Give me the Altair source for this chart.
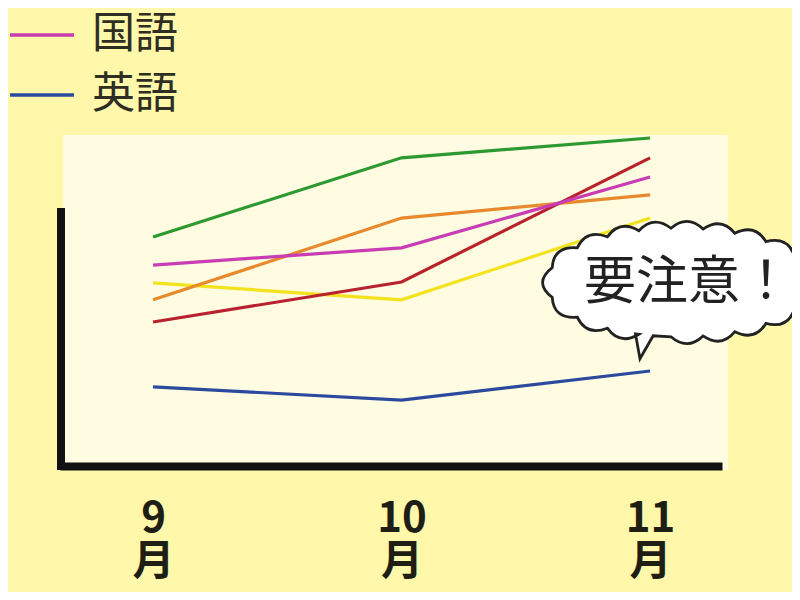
import altair as alt
import pandas as pd
import numpy as np

# ---- data ----
months = ["9月", "10月", "11月"]
kokugo = [60.7, 65.9, 87.3]   # 国語 (magenta)
eigo = [23.9, 19.9, 28.7]     # 英語 (blue)
sugaku = [43.5, 55.6, 93.1]   # 数学 (red)
rika = [69.2, 93.1, 99.1]     # 理科 (green)
shakai = [50.2, 74.9, 81.9]   # 社会 (orange)
sogo = [55.3, 50.2, 74.9]     # 総合 (yellow)

subjects = ["理科", "総合", "社会", "数学", "国語", "英語"]
series = {"国語": kokugo, "英語": eigo, "数学": sugaku, "理科": rika, "社会": shakai, "総合": sogo}
colors = ["#2c9a30", "#f3e31e", "#e8892e", "#b8222f", "#c83cb4", "#2b4a9e"]
legend_values = ["国語", "英語"]

rows = []
for s in subjects:
    for m, v in zip(months, series[s]):
        rows.append({"subject": s, "month": m, "score": v})
df = pd.DataFrame(rows)

note_text = "要注意！"

FONT = "Noto Sans CJK JP"


# ---- cloud bubble outline (unit coords, 1 unit = half of symbol width) ----
def cloud_path(a=0.97, b=0.40, nb=19, bump=0.052, tail_x=(-0.19, -0.32), tip=(-0.287, 0.56)):
    t = np.linspace(0, 2 * np.pi, 4000)
    xs, ys = a * np.cos(t), b * np.sin(t)
    cum = np.concatenate([[0], np.cumsum(np.hypot(np.diff(xs), np.diff(ys)))])
    ts = np.interp(np.linspace(0, cum[-1], nb + 1), cum, t)
    tail_center = (tail_x[0] + tail_x[1]) / 2
    d = [f"M{a * np.cos(ts[0]):.3f},{b * np.sin(ts[0]):.3f}"]
    for i in range(nb):
        t0, t1 = ts[i], ts[i + 1]
        x0, y0 = a * np.cos(t0), b * np.sin(t0)
        x1, y1 = a * np.cos(t1), b * np.sin(t1)
        if y0 > 0 and y1 > 0 and x0 >= tail_center >= x1:
            bx0, bx1 = tail_x
            by0 = b * np.sqrt(1 - (bx0 / a) ** 2)
            by1 = b * np.sqrt(1 - (bx1 / a) ** 2)
            d.append(f"L{bx0:.3f},{by0:.3f}L{tip[0]:.3f},{tip[1]:.3f}L{bx1:.3f},{by1:.3f}L{x1:.3f},{y1:.3f}")
            continue
        tm = (t0 + t1) / 2
        mx, my = a * np.cos(tm), b * np.sin(tm)
        nx, ny = np.cos(tm) / a, np.sin(tm) / b
        nl = np.hypot(nx, ny)
        cx, cy = mx + 2 * bump * nx / nl, my + 2 * bump * ny / nl
        d.append(f"Q{cx:.3f},{cy:.3f} {x1:.3f},{y1:.3f}")
    d.append("Z")
    return "".join(d)


bubble_shape = cloud_path()

one = alt.Data(values=[{"k": 1}])

bg = alt.Chart(one).mark_rect(color="#fffce1").encode(
    x=alt.value(3), x2=alt.value(668), y=alt.value(0), y2=alt.value(335)
)

left_axis = alt.Chart(one).mark_rule(color="#111", strokeWidth=8).encode(
    x=alt.value(1), y=alt.value(73), y2=alt.value(335)
)

lines = alt.Chart(df).mark_line(strokeWidth=3.2).encode(
    x=alt.X("month:N", sort=months,
            scale=alt.Scale(type="point", padding=0.332, align=0.564),
            axis=alt.Axis(title=None, labelAngle=0, ticks=False, zindex=1,
                          domainColor="#111", domainWidth=8,
                          labelFont=FONT, labelFontSize=42, labelFontWeight="bold",
                          labelColor="#1e1e14", labelPadding=32, labelLineHeight=43,
                          labelBaseline="top",
                          labelExpr="[slice(datum.label, 0, -1), '月']")),
    y=alt.Y("score:Q", scale=alt.Scale(domain=[0, 100], nice=False, zero=False), axis=None),
    color=alt.Color("subject:N", sort=subjects,
                    scale=alt.Scale(domain=subjects, range=colors),
                    legend=alt.Legend(values=legend_values, title=None, orient="none",
                                      legendX=-52, legendY=-134, padding=0,
                                      symbolType="stroke", symbolSize=4096,
                                      symbolStrokeWidth=3.5, labelFont=FONT,
                                      labelFontSize=43, labelColor="#2e2e22",
                                      labelOffset=16, rowPadding=4)),
    detail="subject:N",
)

bubble = alt.Chart(one).mark_point(
    shape=bubble_shape, size=272 ** 2, fill="white", stroke="#222",
    strokeWidth=2.8, opacity=1, fillOpacity=1, strokeOpacity=1
).encode(x=alt.value(619), y=alt.value(147.5))

note = alt.Chart(alt.Data(values=[{"t": note_text}])).mark_text(
    font=FONT, fontSize=52, color="#222", align="center", baseline="middle"
).encode(x=alt.value(628), y=alt.value(147.5), text="t:N")

chart = alt.layer(bg, left_axis, lines, bubble, note).properties(
    width=662, height=331,
    autosize=alt.AutoSizeParams(type="none"),
    padding={"left": 52, "top": 127, "right": 70, "bottom": 126},
    background="#fff8ab",
).configure_view(stroke=None, fill=None)

chart.save("out.html", embed_options={"renderer": "svg", "actions": False})
